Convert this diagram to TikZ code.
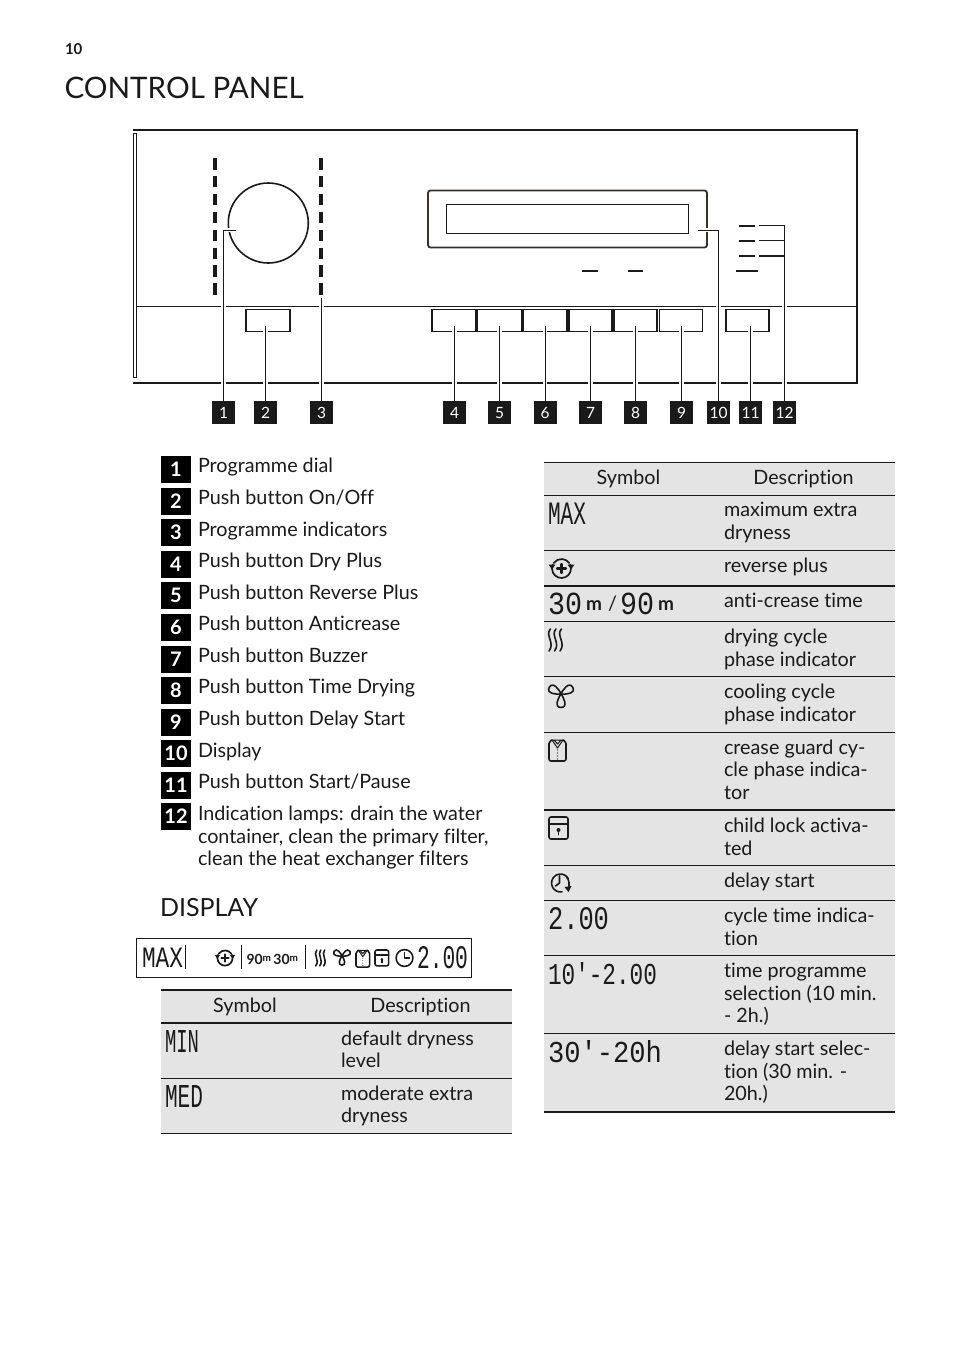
\documentclass[tikz,border=0pt]{standalone}
\usepackage{fontspec}
\setmainfont{Lato}[Ligatures=NoCommon]
\newfontfamily\lcdfont{Liberation Mono}
\definecolor{ink}{HTML}{1A1A1A}
\definecolor{rowgrey}{HTML}{E4E4E4}
\definecolor{dispbrown}{HTML}{3A3028}
\newcommand{\bodyfont}{\fontsize{19.75}{22.4}\selectfont}
\newcommand{\lcd}[3]{\resizebox{#1pt}{#2pt}{\lcdfont #3}}
\tikzset{
  txt/.style={anchor=base west,inner sep=0pt,outer sep=0pt,align=left,text=ink,font=\bodyfont,yshift=-1.2pt},
  hdr/.style={anchor=base,inner sep=0pt,text=ink,font=\bodyfont},
  btn/.style={draw=ink,line width=1.5pt,minimum height=22pt,inner sep=0pt,outer sep=0pt},
  num/.style={fill=ink,text=white,minimum width=23pt,minimum height=23pt,inner sep=0pt,outer sep=0pt,text height=11pt,text depth=0pt,font=\fontsize{15.5}{17}\selectfont},
  bignum/.style={fill=black,text=white,minimum width=30pt,minimum height=27pt,inner sep=0pt,outer sep=0pt,text height=14pt,text depth=0pt,font=\fontsize{20}{22}\bfseries\selectfont},
  lcdtxt/.style={anchor=north west,inner sep=0pt,outer sep=0pt,text=ink},
  leader/.style={draw=ink,line width=.9pt},
  halo/.style={draw=white,line width=4.5pt},
  strip/.style={draw=ink,line width=3.6pt,dash pattern=on 11.5pt off 6.4pt},
  lamp/.style={draw=ink,line width=2.4pt},
  rowline/.style={draw=ink,line width=1pt},
  thickrow/.style={draw=ink,line width=1.8pt},
  icon/.style={draw=ink,line width=1.6pt,line cap=round,line join=round},
  reverseicon/.pic={
    \draw[icon,line width=1.7pt] (-25:9.5) arc (-25:205:9.5);
    \draw[icon,line width=1.7pt] (-145:9.5) arc (-145:-35:9.5);
    \draw[icon,line width=2.2pt] (-4.5,0) -- (4.5,0) (0,-4.5) -- (0,4.5);
    \fill[ink] (-13,-4) -- (-6,-4) -- (-9.5,1) -- cycle;
    \fill[ink] (13,-4) -- (6,-4) -- (9.5,1) -- cycle;
  },
  steamicon/.pic={
    \foreach \q in {0,5.5,11}
      \draw[icon] (\q+2.5,0) .. controls (\q-3.5,6) and (\q+7.5,14) .. (\q+1,22);
  },
  fanicon/.pic={
    \foreach \r in {0,120,240}
      \draw[icon,rotate=\r] (0,0) .. controls (-2.5,3) and (-7.5,13.5) .. (0,13.5) .. controls (7.5,13.5) and (2.5,3) .. (0,0);
  },
  shirticon/.pic={
    \draw[icon,rounded corners=2pt] (3,1) -- (0,2.5) -- (0,22) -- (17,22) -- (17,2.5) -- (14,1);
    \draw[icon,line width=1pt] (3,1) -- (14,1) (3,1) -- (8.5,9) -- (14,1) (5,1) -- (8.5,5) -- (12,1);
    \foreach \q in {11,14,17,20} \fill[ink] (8.5,\q) circle (.6);
  },
  lockicon/.pic={
    \draw[icon,rounded corners=2pt] (0,0) rectangle (19,22);
    \draw[icon] (0,7) -- (19,7);
    \fill[ink] (9.5,13) circle (2);
    \draw[icon] (9.5,13) -- (9.5,17.5);
  },
  delayicon/.pic={
    \draw[icon] (-30:9) arc (-30:-280:9);
    \draw[icon] (-1,-7) -- (-1,0) -- (-5,3);
    \draw[icon] (6,-6) .. controls (9,-3) and (9,2) .. (8,5);
    \fill[ink] (4,4) -- (11,3) -- (8,9) -- cycle;
  },
  clockicon/.pic={
    \draw[icon] (0,0) circle (8.4);
    \draw[icon] (0,-5.5) -- (0,0) -- (5,0);
  },
}
\begin{document}
\begin{tikzpicture}[x=1pt,y=-1pt]
\useasboundingbox (0,0) rectangle (954,1352);
% headings
\node[txt,font=\fontsize{15}{17}\selectfont\bfseries] (pg) at (65,53.5) {10};
\node[txt,font=\fontsize{29.6}{32}\selectfont] (ttl) at (64.5,97) {CONTROL PANEL};
% panel
\draw[draw=ink,line width=1.8pt] (133,130) -- (857,130) -- (857,383) -- (133,383);
\draw[draw=ink,line width=.8pt] (133.3,133) rectangle (136.3,377);
\draw[draw=ink,line width=.9pt] (136.3,306) -- (857,306);
\draw[strip] (215,158) -- (215,296);
\draw[strip] (321,158) -- (321,296);
\node[circle,draw=ink,line width=1.6pt,minimum size=80pt,inner sep=0pt] (dial) at (268.3,223) {};
\draw[draw=dispbrown,line width=1.8pt,rounded corners=2.5pt] (428,190.5) rectangle (707,247.5);
\node[draw=ink,line width=.9pt,minimum width=242.5pt,minimum height=29pt,inner sep=0pt] (screen) at (567.2,219) {};
\node[btn,minimum width=44pt] (b2) at (268,320.5) {};
\node[btn,minimum width=44pt] (b4) at (454,320.5) {};
\node[btn,minimum width=44pt] (b5) at (499.5,320.5) {};
\node[btn,minimum width=44pt] (b6) at (545,320.5) {};
\node[btn,minimum width=43pt] (b7) at (590.5,320.5) {};
\node[btn,minimum width=43pt] (b8) at (635.5,320.5) {};
\node[btn,minimum width=43pt] (b9) at (681,320.5) {};
\node[btn,minimum width=43pt] (b11) at (747.5,320.5) {};
\draw[lamp] (739,226) -- (755,226) (739,241) -- (755,241) (739,256) -- (755,256) (736,271) -- (758,271);
\draw[lamp] (582,271) -- (598,271) (628,271) -- (643,271);
% number tags
\node[num] (n1) at (223.5,412.5) {1};
\node[num] (n2) at (265.5,412.5) {2};
\node[num] (n3) at (321.5,412.5) {3};
\node[num] (n4) at (454.5,412.5) {4};
\node[num] (n5) at (499.5,412.5) {5};
\node[num] (n6) at (545,412.5) {6};
\node[num] (n7) at (590.5,412.5) {7};
\node[num] (n8) at (635.5,412.5) {8};
\node[num] (n9) at (681.5,412.5) {9};
\node[num] (n10) at (718.5,412.5) {10};
\node[num] (n11) at (750.5,412.5) {11};
\node[num] (n12) at (784.5,412.5) {12};
% leader ends
\coordinate (s1) at (235.7,230);
\coordinate (s3) at (321.5,298);
\coordinate (s10) at (698,230);
\coordinate (s12a) at (759,225.5);
\coordinate (s12b) at (759,240.5);
\coordinate (s12c) at (759,256);
\coordinate (k12) at (784.5,240.5);
\coordinate (k12c) at (784.5,256);
\foreach \b/\n in {b2/n2,b4/n4,b5/n5,b6/n6,b7/n7,b8/n8,b9/n9,b11/n11}{
  \coordinate (s\n) at (\n |- 0,326);
  \draw[halo] (s\n) -- (\n.north);
  \draw[leader] (s\n) -- (\n.north);
}
\draw[draw=white,line width=3.5pt] (223.5,230) -- (s1);
\draw[halo] (223.5,234) -- (n1.north);
\draw[halo] (s3) -- (n3.north);
\draw[draw=white,line width=3.5pt] (702,230) -- (718.5,230);
\draw[halo] (718.5,234) -- (n10.north);
\draw[halo] (784.5,260) -- (n12.north);
\draw[leader] (s1) -| (n1.north);
\draw[leader] (s3) -- (n3.north);
\draw[leader] (s10) -| (n10.north);
\draw[leader] (s12a) -| (n12.north);
\draw[leader] (s12b) -- (k12);
\draw[leader,line width=1.4pt] (s12c) -- (k12c);
% numbered list
\foreach \i/\yy/\t in {1/456/Programme dial,2/487.7/Push button On\slash Off,3/519.2/Programme indicators,4/550.8/Push button Dry Plus,5/582.3/Push button Reverse Plus,6/614/Push button Anticrease,7/645.5/Push button Buzzer,8/677/Push button Time Drying,9/708.5/Push button Delay Start,10/740.2/Display,11/771.8/Push button Start\slash Pause}{
  \node[bignum] (L\i) at (176,\yy+13.5) {\i};
  \node[txt] (T\i) at (198,\yy+15.7) {\t};
}
\node[bignum] (L12) at (176,816.5) {12};
\node[txt] (T12) at (198,864.3) {Indication lamps: drain the water\\container, clean the primary filter,\\clean the heat exchanger filters};
\node[txt,font=\fontsize{25}{28}\selectfont] (dh) at (160,915.5) {DISPLAY};
% display strip
\node[draw=ink,line width=.9pt,minimum width=335pt,minimum height=39pt,inner sep=0pt] (strip) at (304,957.5) {};
\node[lcdtxt] (smax) at (142,948) {\lcd{41}{19.5}{MAX}};
\draw[leader] (185.5,945) -- (185.5,969) (241,945) -- (241,969) (305.5,945) -- (305.5,969);
\pic[scale=.8] at (225,958) {reverseicon};
\node[txt,font=\fontsize{14}{16}\selectfont\bfseries] (s90) at (246.5,963) {90\raisebox{3pt}{\fontsize{10}{11}\selectfont m}\,30\raisebox{3pt}{\fontsize{10}{11}\selectfont m}};
\pic[scale=.72] at (315,950) {steamicon};
\pic[scale=.68] at (342,956) {fanicon};
\pic[scale=.8] at (356,949.5) {shirticon};
\pic[scale=.72] at (375,950) {lockicon};
\pic at (404.5,958) {clockicon};
\node[lcdtxt] (s200) at (417,946) {\lcd{51}{22}{2.00}};
% left table
\fill[rowgrey] (161,990) rectangle (512,1133);
\draw[thickrow] (161,990) -- (512,990);
\draw[thickrow] (161,1023) -- (512,1023);
\draw[rowline] (161,1078) -- (512,1078);
\draw[rowline] (161,1133) -- (512,1133);
\node[hdr] (ls) at (245,1012) {Symbol};
\node[hdr] (ld) at (420.5,1012) {Description};
\node[lcdtxt] (lmin) at (165,1030) {\lcd{34}{22}{MIN}};
\node[txt] (t1) at (341,1066.5) {default dryness\\level};
\node[lcdtxt] (lmed) at (165,1085) {\lcd{38}{22}{MED}};
\node[txt] (t2) at (341,1121.5) {moderate extra\\dryness};
% right table
\fill[rowgrey] (544,462.5) rectangle (895,1112);
\draw[rowline] (544,462.5) -- (895,462.5);
\draw[rowline] (544,495.5) -- (895,495.5);
\draw[rowline] (544,550.5) -- (895,550.5);
\draw[thickrow] (544,586) -- (895,586);
\draw[rowline] (544,621) -- (895,621);
\draw[rowline] (544,676) -- (895,676);
\draw[rowline] (544,732) -- (895,732);
\draw[thickrow] (544,810) -- (895,810);
\draw[rowline] (544,865) -- (895,865);
\draw[rowline] (544,900) -- (895,900);
\draw[thickrow] (544,955.5) -- (895,955.5);
\draw[thickrow] (544,1033.5) -- (895,1033.5);
\draw[thickrow] (544,1112) -- (895,1112);
\node[hdr] (rs) at (628.5,484) {Symbol};
\node[hdr] (rd) at (803.5,484) {Description};
\node[lcdtxt] (rmax) at (548,503) {\lcd{38}{21.5}{MAX}};
\node[txt] (r1) at (724,538) {maximum extra\\dryness};
\pic at (561.5,568.5) {reverseicon};
\node[txt] (r2) at (724,571.3) {reverse plus};
\node[lcdtxt] (r30) at (548,593) {\lcd{34}{21.5}{30}};
\node[txt,font=\fontsize{19}{22}\selectfont\bfseries] (rm1) at (586,609) {m};
\node[txt] (rsl) at (608,609) {/};
\node[lcdtxt] (r90) at (620,593) {\lcd{34}{21.5}{90}};
\node[txt,font=\fontsize{19}{22}\selectfont\bfseries] (rm2) at (658,609) {m};
\node[txt] (r3) at (724,606.5) {anti-crease time};
\pic at (548,629) {steamicon};
\node[txt] (r4) at (724,665) {drying cycle\\phase indicator};
\pic at (561,694) {fanicon};
\node[txt] (r5) at (724,720) {cooling cycle\\phase indicator};
\pic at (549,739) {shirticon};
\node[txt] (r6) at (724,798) {crease guard cy-\\cle phase indica-\\tor};
\pic at (549,817) {lockicon};
\node[txt] (r7) at (724,854) {child lock activa-\\ted};
\pic at (560.5,883) {delayicon};
\node[txt] (r8) at (724,886.5) {delay start};
\node[lcdtxt] (r200) at (548,907) {\lcd{61}{22}{2.00}};
\node[txt] (r9) at (724,944) {cycle time indica-\\tion};
\node[lcdtxt] (r102) at (548,962) {\lcd{109}{22}{10'-2.00}};
\node[txt] (r10) at (724,1021.5) {time programme\\selection (10 min.\\- 2h.)};
\node[lcdtxt] (r3020) at (548,1040) {\lcd{114}{22}{30'-20h}};
\node[txt] (r11) at (724,1099.5) {delay start selec-\\tion (30 min. -\\20h.)};
\end{tikzpicture}
\end{document}
